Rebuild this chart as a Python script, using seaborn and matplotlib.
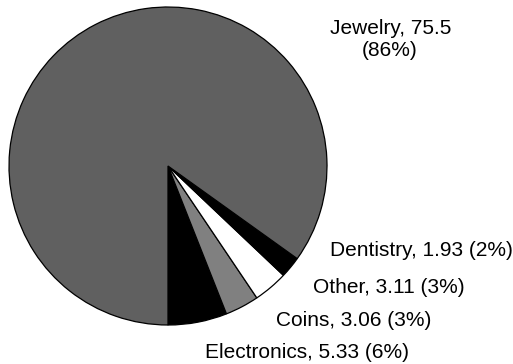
import matplotlib
matplotlib.use("Agg")
import matplotlib.pyplot as plt
import seaborn as sns

# Gold demand by end use
categories = ["Electronics", "Coins", "Other", "Dentistry", "Jewelry"]
values = [5.33, 3.06, 3.11, 1.93, 75.5]
value_labels = ["5.33", "3.06", "3.11", "1.93", "75.5"]
percent_labels = ["6%", "3%", "3%", "2%", "86%"]

slice_colors = ["#000000", "#808080", "#ffffff", "#000000", "#606060"]

sns.set_theme(style="white")
plt.rcParams["font.family"] = ["Liberation Sans", "DejaVu Sans"]

W, H = 513, 364
fig = plt.figure(figsize=(W / 100, H / 100), dpi=100)
ax = fig.add_axes([0, 0, 1, 1])

ax.pie(
    values,
    colors=slice_colors,
    startangle=-90,
    counterclock=True,
    center=(168, H - 166),
    radius=159,
    frame=True,
    wedgeprops=dict(edgecolor="black", linewidth=0.9),
)
ax.set_xlim(0, W)
ax.set_ylim(0, H)
ax.set_aspect("equal")
ax.axis("off")

# label placement (x, baseline y measured from top, alignment)
label_pos = {
    "Electronics": (205, 358, "left"),
    "Coins": (276, 326, "left"),
    "Other": (313, 293, "left"),
    "Dentistry": (330, 256, "left"),
}
fs = 15
for cat, val, pct in zip(categories, value_labels, percent_labels):
    if cat == "Jewelry":
        ax.text(391, H - 34, f"{cat}, {val}", ha="center", va="baseline", fontsize=fs, color="black")
        ax.text(390, H - 56, f"({pct})", ha="center", va="baseline", fontsize=fs, color="black")
    else:
        x, y, ha = label_pos[cat]
        ax.text(x, H - y, f"{cat}, {val} ({pct})", ha=ha, va="baseline", fontsize=fs, color="black")

fig.savefig("out.png", dpi=100)
